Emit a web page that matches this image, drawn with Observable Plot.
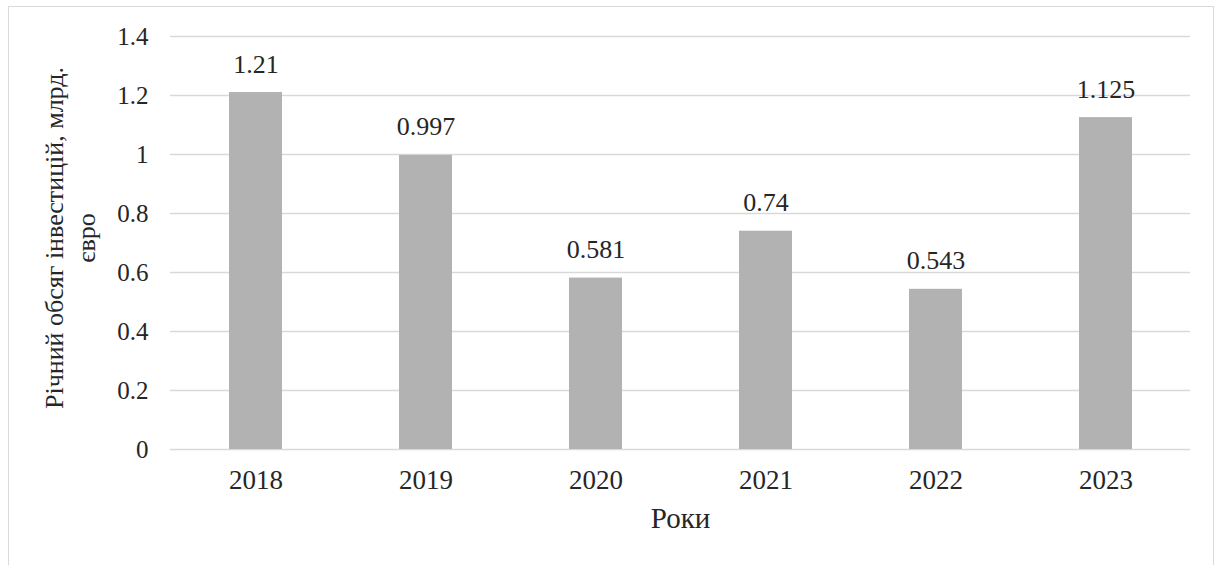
<!DOCTYPE html>
<html>
<head>
<meta charset="utf-8">
<script src="https://cdn.jsdelivr.net/npm/d3@7"></script>
<script src="https://cdn.jsdelivr.net/npm/@observablehq/plot@0.6"></script>
<style>
  html, body { margin: 0; padding: 0; background: #fff; }
  #wrap { position: relative; width: 1221px; height: 565px; overflow: hidden; }
  #frame { position: absolute; left: 8px; top: 6px; width: 1206px; height: 620px; border: 1px solid #d9d9d9; box-sizing: border-box; pointer-events: none; }
</style>
</head>
<body>
<div id="wrap"><div id="frame"></div></div>
<script>
const years = ["2018", "2019", "2020", "2021", "2022", "2023"];
const investments = [1.21, 0.997, 0.581, 0.74, 0.543, 1.125];
const valueLabels = ["1.21", "0.997", "0.581", "0.74", "0.543", "1.125"];
const yTicks = [0, 0.2, 0.4, 0.6, 0.8, 1, 1.2, 1.4];
const yTitle = "Річний обсяг інвестицій, млрд.\nєвро";
const xTitle = "Роки";

const serif = "'Liberation Serif', Tinos, 'Times New Roman', 'DejaVu Serif', serif";
const data = years.map((y, i) => ({year: y, value: investments[i], label: valueLabels[i]}));

const chart = Plot.plot({
  width: 1221,
  height: 565,
  marginLeft: 170,
  marginRight: 31,
  marginTop: 36,
  marginBottom: 116,
  style: {fontFamily: serif, background: "transparent", color: "#262626"},
  x: {domain: years, paddingInner: 0.69, paddingOuter: 0.345, label: null},
  y: {domain: [0, 1.4], label: null},
  marks: [
    Plot.gridY(yTicks, {stroke: "#d9d9d9", strokeOpacity: 1, strokeWidth: 1.5}),
    Plot.barY(data, {x: "year", y: "value", fill: "#b2b2b2"}),
    Plot.text(data, {x: "year", y: "value", text: "label", lineAnchor: "bottom", dy: -20, fontSize: 26, fontFamily: serif, fill: "#262626"}),
    Plot.axisY(yTicks, {tickSize: 0, tickPadding: 22, fontSize: 25, fontFamily: serif, tickFormat: d => String(d), label: null, fill: "#262626"}),
    Plot.axisX({tickSize: 0, tickPadding: 20, fontSize: 27, fontFamily: serif, label: null, fill: "#262626"}),
    Plot.text([yTitle], {frameAnchor: "left", textAnchor: "middle", rotate: -90, dx: -130, dy: -5, lineAnchor: "top", lineHeight: 1.23, fontSize: 26, fontFamily: serif, fill: "#262626"}),
    Plot.text([xTitle], {frameAnchor: "bottom", textAnchor: "middle", dy: 78, lineAnchor: "bottom", fontSize: 29, fontFamily: serif, fill: "#262626"})
  ]
});
document.getElementById("wrap").prepend(chart);
</script>
</body>
</html>
